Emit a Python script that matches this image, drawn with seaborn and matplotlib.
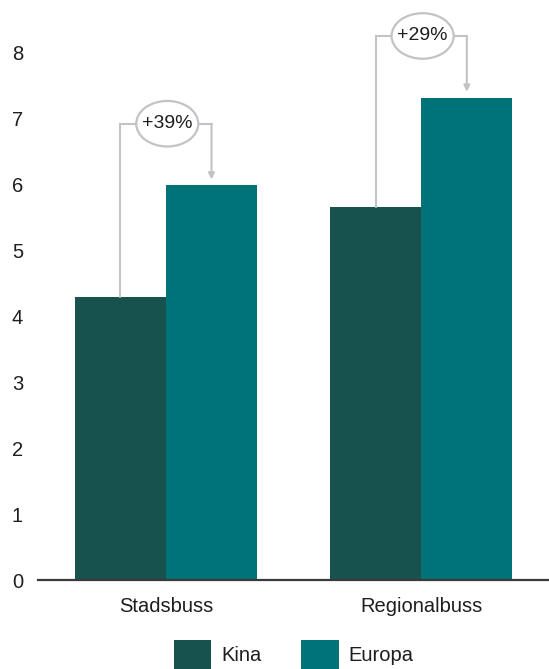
import numpy as np
import pandas as pd
import matplotlib.pyplot as plt
from matplotlib.patches import Ellipse
import seaborn as sns

# data
kategorier = ["Stadsbuss", "Regionalbuss"]
kina = [4.29, 5.66]
europa = [5.98, 7.31]
okning = ["+39%", "+29%"]

df = pd.DataFrame({
    "kategori": kategorier * 2,
    "region": ["Kina"] * 2 + ["Europa"] * 2,
    "varde": kina + europa,
})

sns.set_style("white")
plt.rcParams["font.family"] = ["Liberation Sans", "DejaVu Sans"]

farger = {"Kina": "#18524e", "Europa": "#007378"}
gra = "#c1c3c7"
text_farg = "#1e1e1e"

fig = plt.figure(figsize=(5.49, 6.69), dpi=100)
ax = fig.add_axes([0.0698, 0.1330, 0.9302, 0.8670])

sns.barplot(data=df, x="kategori", y="varde", hue="region", palette=farger,
            width=0.713, saturation=1, linewidth=0, ax=ax)

ax.set_xlim(-0.5, 1.5)
ax.set_ylim(0, 8.79)
ax.set_yticks(range(0, 9))
ax.set_xlabel("")
ax.set_ylabel("")
sns.despine(ax=ax, left=True)
ax.spines["bottom"].set_color("#3a3a3a")
ax.spines["bottom"].set_linewidth(1.6)
ax.tick_params(axis="y", length=0, pad=11, labelsize=14.5, labelcolor=text_farg)
ax.tick_params(axis="x", length=0, pad=12.5, labelsize=14.5, labelcolor=text_farg)

# brackets with percent bubbles
kina_bars = ax.containers[0]
eu_bars = ax.containers[1]
for kb, eb, lbl in zip(kina_bars, eu_bars, okning):
    x0 = kb.get_x() + kb.get_width() / 2
    x1 = eb.get_x() + eb.get_width() / 2
    y0 = kb.get_height()
    y1 = eb.get_height()
    yb = y1 + 0.935
    ax.plot([x0, x0, x1], [y0, yb, yb], color=gra, lw=1.5, zorder=3,
            solid_joinstyle="miter")
    ax.annotate("", xy=(x1, y1 + 0.09), xytext=(x1, yb),
                arrowprops=dict(arrowstyle="-|>", color=gra, lw=1.5,
                                mutation_scale=9, shrinkA=0, shrinkB=0),
                zorder=3)
    xm = (x0 + x1) / 2 + 0.005
    ax.add_patch(Ellipse((xm, yb), 0.243, 0.69, facecolor="white",
                         edgecolor=gra, lw=1.6, zorder=4))
    ax.text(xm, yb, lbl, ha="center", va="center", fontsize=14,
            color=text_farg, zorder=5)

sns.move_legend(ax, "upper center", bbox_to_anchor=(0.5, -0.1035), ncol=2,
                frameon=False, title=None, fontsize=14.5, handlelength=1.88,
                handleheight=1.88, handletextpad=0.48, columnspacing=1.98,
                borderpad=0, borderaxespad=0, labelcolor=text_farg)

fig.savefig("out.png", dpi=100)
